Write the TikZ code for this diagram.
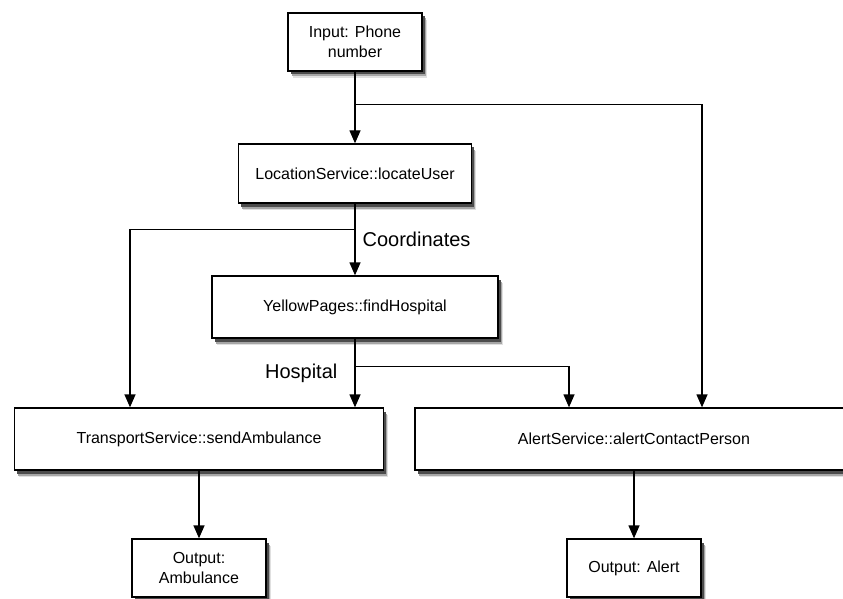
\documentclass[tikz,border=0pt]{standalone}
\usepackage{fontspec}
\setmainfont{Liberation Sans}
\usetikzlibrary{arrows.meta,positioning}

\begin{document}
\begin{tikzpicture}[x=1pt,y=-1pt,
      b/.style={rectangle,draw,line width=1.3pt,fill=white,inner sep=2pt,
                font=\fontsize{16}{20}\selectfont,align=center,
                preaction={fill=black!12,transform canvas={shift={(4.5pt,-7pt)}}},
                preaction={fill=black!35,transform canvas={shift={(3.5pt,-5.5pt)}}},
                preaction={fill=black!70,transform canvas={shift={(2.5pt,-3.5pt)}}}},
      io/.style={b,minimum width=134pt,minimum height=58pt},
      lbl/.style={inner sep=0pt,font=\fontsize{20}{24}\selectfont},
      a/.style={-{Triangle[length=13pt,width=11pt]},line width=1.3pt}]
      \useasboundingbox (0,0) rectangle (843,599);
      \node[io] (inp) at (355,42) {Input: Phone\\number};
      \node[b,minimum width=233pt,minimum height=59pt] (loc) at (355,173.5) {LocationService::locateUser};
      \node[b,minimum width=286pt,minimum height=62pt] (yp)  at (355,307) {YellowPages::findHospital};
      \node[b,minimum width=369pt,minimum height=62pt] (tr)  at (199,439) {TransportService::sendAmbulance};
      \node[b,minimum width=438pt,minimum height=62pt] (al)  at (634,439) {AlertService::alertContactPerson};
      \node[io] (oa)  at (199,568) {Output:\\Ambulance};
      \node[io] (oal) at (634,568) {Output: Alert};
      \draw[a] (inp) -- (loc);
      \draw[a] (inp.south) ++(0,33) -| ([xshift=68pt]al.north);
      \draw[a] (loc) -- node[lbl,right=7pt] {Coordinates} (yp);
      \draw[a] (loc.south) ++(0,26) -| ([xshift=-69pt]tr.north);
      \draw[a] (yp.south) -- node[lbl,left=17pt] {Hospital} (yp.south |- tr.north);
      \draw[a] (yp.south) ++(0,28) -| ([xshift=-65pt]al.north);
      \draw[a] (tr) -- (oa);
      \draw[a] (al) -- (oal);
    \end{tikzpicture}
\end{document}
